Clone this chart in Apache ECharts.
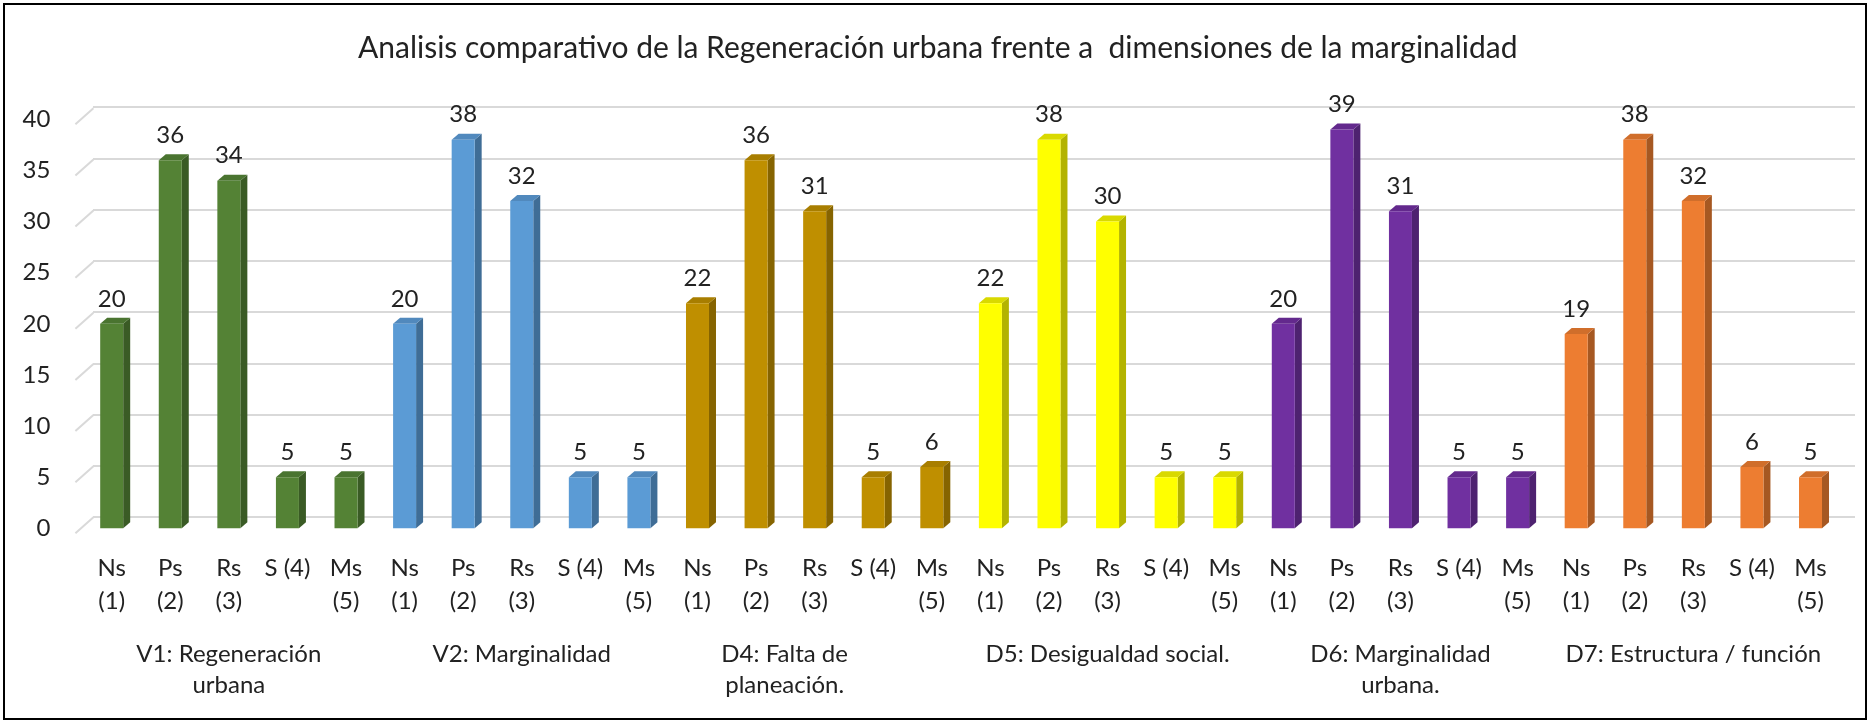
<!DOCTYPE html>
<html>
<head>
<meta charset="utf-8">
<script src="https://cdn.jsdelivr.net/npm/echarts@6/dist/echarts.min.js"></script>
<style>
  html, body { margin: 0; padding: 0; background: #fff; }
  #main { width: 1871px; height: 722px; }
</style>
</head>
<body>
<div id="main"></div>
<script>
// data
var levels = ['Ns\n(1)', 'Ps\n(2)', 'Rs\n(3)', 'S (4)', 'Ms\n(5)'];
var groups = ['V1: Regeneración\nurbana', 'V2: Marginalidad', 'D4: Falta de\nplaneación.',
    'D5: Desigualdad social.', 'D6: Marginalidad\nurbana.', 'D7: Estructura / función'];
var v1 = [20, 36, 34, 5, 5];
var v2 = [20, 38, 32, 5, 5];
var d4 = [22, 36, 31, 5, 6];
var d5 = [22, 38, 30, 5, 5];
var d6 = [20, 39, 31, 5, 5];
var d7 = [19, 38, 32, 6, 5];
var yTicks = [0, 5, 10, 15, 20, 25, 30, 35, 40];

// front / side / top colours of each group
var palette = [
    ['#548235', '#3a5b25', '#4a7430'],
    ['#5b9bd5', '#3f6d96', '#5189bd'],
    ['#bf8f00', '#866400', '#a87e00'],
    ['#ffff00', '#b3b300', '#d9d900'],
    ['#7030a0', '#4e2270', '#63298d'],
    ['#ed7d31', '#a65822', '#d06e2b']
];

var seriesVals = [v1, v2, d4, d5, d6, d7];
var categories = [];
var barData = [];
seriesVals.forEach(function (vals, g) {
    vals.forEach(function (v, i) {
        categories.push(levels[i]);
        barData.push([categories.length - 1, v, g]);
    });
});

var FONT = 'Lato';
var barW = 23, depthX = 7, depthY = 6;

function renderBar(params, api) {
    var idx = api.value(0);
    var top = api.coord([idx, api.value(1)]);
    var base = api.coord([idx, 0]);
    var c = palette[api.value(2)];
    var x0 = top[0] - barW / 2, x1 = top[0] + barW / 2;
    var yT = top[1], yB = base[1];
    return {
        type: 'group',
        children: [
            { type: 'polygon', shape: { points: [[x1, yT], [x1 + depthX, yT - depthY], [x1 + depthX, yB - depthY], [x1, yB]] },
              style: { fill: c[1] } },
            { type: 'polygon', shape: { points: [[x0, yT], [x0 + depthX, yT - depthY], [x1 + depthX, yT - depthY], [x1, yT]] },
              style: { fill: c[2] } },
            { type: 'rect', shape: { x: x0, y: yT, width: barW, height: yB - yT },
              style: { fill: c[0] } },
            { type: 'text', x: top[0], y: yT - 25,
              style: { text: String(api.value(1)), fill: '#222', font: '24px ' + FONT, align: 'center', verticalAlign: 'middle' } }
        ]
    };
}

// slanted floor-to-wall segments at the left of each gridline
function renderSlant(params, api) {
    var p = api.coord([0, api.value(0)]);
    var left = p[0] - api.size([1, 0])[0] / 2;
    return {
        type: 'line',
        shape: { x1: left - 7, y1: p[1] + 5, x2: left + 11, y2: p[1] - 11 },
        style: { stroke: '#d9d9d9', lineWidth: 2 }
    };
}

var chart = echarts.init(document.getElementById('main'));
var option = {
    backgroundColor: '#fff',
    animation: false,
    title: {
        text: 'Analisis comparativo de la Regeneración urbana frente a  dimensiones de la marginalidad',
        left: 358,
        top: 33,
        padding: 0,
        textStyle: { fontFamily: FONT, fontSize: 30, fontWeight: 'normal', color: '#222' }
    },
    graphic: [{
        type: 'rect',
        shape: { x: 4, y: 4, width: 1862, height: 715 },
        style: { fill: null, stroke: '#000', lineWidth: 2 },
        z: 100
    }],
    grid: [
        { left: 82.4, right: 31.2, top: 119.3, bottom: 193.7 },
        { left: 93, right: 16, top: 107, bottom: 205 }
    ],
    xAxis: [
        {
            type: 'category', gridIndex: 0, data: categories,
            axisLine: { show: false }, axisTick: { show: false },
            axisLabel: { interval: 0, margin: 23, fontFamily: FONT, fontSize: 24, lineHeight: 33, color: '#222' }
        },
        {
            type: 'category', gridIndex: 0, position: 'bottom', data: groups,
            axisLine: { show: false }, axisTick: { show: false },
            axisLabel: {
                interval: 0, margin: 110, fontFamily: FONT, fontSize: 24, lineHeight: 31, color: '#222',
                // the D4 label sits a bit left of its group in the original
                formatter: function (val, i) {
                    return i === 2 ? val.split('\n').map(function (s) { return '{shift|' + s + '}'; }).join('\n') : val;
                },
                rich: { shift: { fontFamily: FONT, fontSize: 24, lineHeight: 31, color: '#222', padding: [0, 60, 0, 0] } }
            }
        },
        { type: 'value', gridIndex: 1, min: 0, max: 1, show: false }
    ],
    yAxis: [
        {
            type: 'value', gridIndex: 0, min: 0, max: 40, interval: 5,
            axisLine: { show: false }, axisTick: { show: false }, splitLine: { show: false },
            axisLabel: { margin: 32, fontFamily: FONT, fontSize: 24, color: '#222', padding: [10, 0, 0, 0] }
        },
        {
            type: 'value', gridIndex: 1, min: 0, max: 40, interval: 5,
            axisLine: { show: false }, axisTick: { show: false }, axisLabel: { show: false },
            splitLine: { lineStyle: { color: '#d9d9d9', width: 2 } }
        }
    ],
    series: [
        {
            type: 'custom', xAxisIndex: 0, yAxisIndex: 0,
            data: yTicks.map(function (t) { return [t]; }),
            encode: { y: 0 },
            renderItem: renderSlant, silent: true, z: 1
        },
        {
            type: 'custom', xAxisIndex: 0, yAxisIndex: 0,
            data: barData,
            encode: { x: 0, y: 1 },
            renderItem: renderBar, z: 5
        }
    ]
};

option && chart.setOption(option);
</script>
</body>
</html>
